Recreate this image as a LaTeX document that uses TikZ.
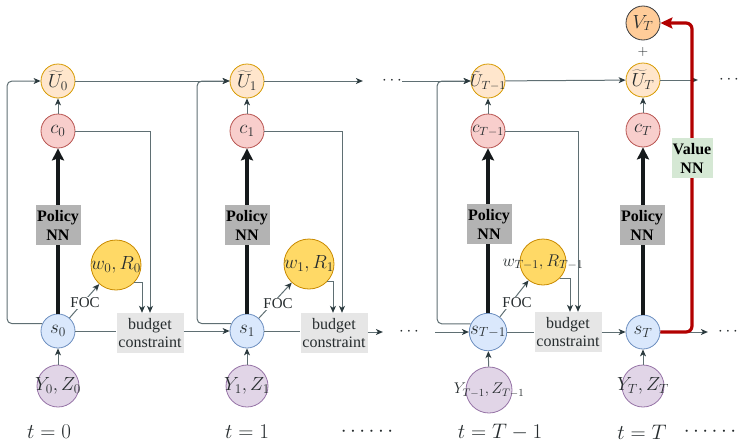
\RequirePackage{fix-cm}
\documentclass[tikz,border=0pt]{standalone}
\usepackage{fontspec}
\setmainfont{Liberation Serif}
\usetikzlibrary{arrows.meta,calc}
\definecolor{linec}{HTML}{5F6F73}
\definecolor{tipc}{HTML}{2B3A3E}
\definecolor{polc}{HTML}{15191B}
\definecolor{valc}{HTML}{B20000}
\definecolor{txtc}{HTML}{262C2E}
\definecolor{uD}{HTML}{D79B00}\definecolor{uF}{HTML}{FFE6CC}
\definecolor{cD}{HTML}{B85450}\definecolor{cF}{HTML}{F8CECC}
\definecolor{sD}{HTML}{6C8EBF}\definecolor{sF}{HTML}{DAE8FC}
\definecolor{wD}{HTML}{C98A00}\definecolor{wF}{HTML}{FFD966}
\definecolor{yD}{HTML}{9673A6}\definecolor{yF}{HTML}{E1D5E7}
\definecolor{vD}{HTML}{36393D}\definecolor{vF}{HTML}{FFCC99}
\definecolor{pnnF}{HTML}{B3B3B3}
\definecolor{bcF}{HTML}{E6E6E6}
\definecolor{vnnF}{HTML}{D5E8D4}

\begin{document}
\begin{tikzpicture}[x=1pt,y=-1pt,text=txtc,font=\fontsize{19}{22}\selectfont,
  con/.style={draw=linec,line width=1pt,-{Stealth[length=7pt,width=6pt,inset=2pt,color=tipc]}},
  conl/.style={draw=linec,line width=1pt},
  policy/.style={draw=polc,line width=3.5pt,-{Stealth[length=12pt,width=12pt,inset=2pt]}},
  valarrow/.style={draw=valc,line width=3.2pt,rounded corners=6pt,-{Stealth[length=12pt,width=11pt,inset=2pt]}},
  ucirc/.style={circle,draw=uD,fill=uF,line width=0.8pt,minimum size=34pt,inner sep=0pt},
  ccirc/.style={circle,draw=cD,fill=cF,line width=0.8pt,minimum size=34pt,inner sep=0pt},
  scirc/.style={circle,draw=sD,fill=sF,line width=0.8pt,minimum size=34pt,inner sep=0pt},
  wcirc/.style={circle,draw=wD,fill=wF,line width=0.8pt,minimum size=50pt,inner sep=0pt},
  ycirc/.style={circle,draw=yD,fill=yF,line width=0.8pt,minimum size=42pt,inner sep=0pt},
  vcirc/.style={circle,draw=vD,fill=vF,line width=0.8pt,minimum size=34pt,inner sep=0pt},
  small/.style={font=\fontsize{17}{20}\selectfont},
  pnn/.style={fill=pnnF,minimum width=45pt,minimum height=40pt,inner sep=0.5pt,align=center,
    text=black,font=\fontsize{16}{19}\selectfont\bfseries},
  vnn/.style={fill=vnnF,minimum width=41pt,minimum height=40pt,inner sep=0.5pt,align=center,
    text=black,font=\fontsize{16}{19}\selectfont\bfseries},
  budget/.style={fill=bcF,minimum width=67pt,minimum height=40pt,inner sep=1pt,align=center,
    font=\fontsize{16}{18}\selectfont},
  foc/.style={fill=white,inner sep=1pt,font=\fontsize{15}{17}\selectfont},
  dots/.style={inner sep=0pt,font=\fontsize{17}{20}\selectfont},
  tlab/.style={font=\fontsize{21}{24}\selectfont}]
  \useasboundingbox (0,0) rectangle (741,442);

  % t = 0
  \node[ucirc] (u0) at (58,81) {$\widetilde{U}_0$};
  \node[ccirc] (c0) at (58,131) {$c_0$};
  \node[scirc] (s0) at (58,331) {$s_0$};
  \node[wcirc,label={center:$w_0,R_0$}] (w0) at (116,265) {};
  \node[ycirc,label={center:$Y_0,Z_0$}] (y0) at (58,386) {};
  \node[budget] (b0) at (150,333) {budget\\constraint};
  \node[tlab] (t0) at (49,432) {$t=0$};
  \coordinate (l0) at (7,81);

  % t = 1
  \node[ucirc] (u1) at (247,81) {$\widetilde{U}_1$};
  \node[ccirc] (c1) at (247,131) {$c_1$};
  \node[scirc] (s1) at (247,331) {$s_1$};
  \node[wcirc,label={center:$w_1,R_1$}] (w1) at (309,264) {};
  \node[ycirc,label={center:$Y_1,Z_1$}] (y1) at (247,386) {};
  \node[budget] (b1) at (334,333) {budget\\constraint};
  \node[tlab] (t1) at (247,432) {$t=1$};
  \coordinate (l1) at (197,81);

  % t = T-1
  \node[ucirc,label={[small]center:$\tilde{U}_{T-1}$}] (u2) at (488,81) {};
  \node[ccirc,small] (c2) at (488,131) {$c_{T-1}$};
  \node[scirc,minimum size=36pt] (s2) at (488,332) {$s_{T-1}$};
  \node[wcirc,minimum size=46pt,label={[small]center:$w_{T-1},R_{T-1}$}] (w2) at (543,262) {};
  \node[ycirc,minimum size=46pt,label={[font=\fontsize{15.5}{18}\selectfont]center:$Y_{T-1},Z_{T-1}$}] (y2) at (489,390) {};
  \node[budget] (b2) at (568,332) {budget\\constraint};
  \node[tlab] (t2) at (500,432) {$t=T-1$};
  \coordinate (l2) at (437,81);

  % t = T
  \node[vcirc] (v3) at (643,23) {$V_T$};
  \node[font=\fontsize{14}{16}\selectfont] (plus) at (643,52) {$+$};
  \node[ucirc] (u3) at (643,80) {$\widetilde{U}_T$};
  \node[ccirc] (c3) at (643,130) {$c_T$};
  \node[scirc] (s3) at (643,332) {$s_T$};
  \node[ycirc,label={center:$Y_T,Z_T$}] (y3) at (643,386) {};
  \node[tlab] (t3) at (642,432) {$t=T$};
  \coordinate (rv) at (692,23);

  % dots
  \node[dots] (du) at (392,81) {$\cdots$};
  \node[dots] (dm) at (409,332) {$\cdots$};
  \node[dots] (dur) at (729,80) {$\cdots$};
  \node[dots] (dmr) at (728,332) {$\cdots$};
  \node[dots,tlab] (tdl) at (367,432) {$\cdots\cdots$};
  \node[dots,tlab] (tdr) at (710,432) {$\cdots\cdots$};

  % utility line
  \draw[con] (u0) -- (u1);
  \draw[con] (u1) -- ([xshift=-19pt]du.west);
  \draw[con] (du.east) -- (u2);
  \draw[con] (u2) -- (u3);
  \draw[con] (u3) -- ([xshift=-21pt]dur.west);

  % state line
  \draw[conl] (s0) -- (s0 -| b0.west);
  \draw[con] (b0.east |- s1) -- (s1);
  \draw[conl] (s1) -- (s1 -| b1.west);
  \draw[con] (b1.east |- dm) -- ([xshift=-16pt]dm.west);
  \draw[con] ([xshift=16pt]dm.east) -- (s2);
  \draw[conl] (s2) -- (s2 -| b2.west);
  \draw[con] (b2.east |- s3) -- (s3);
  \draw[con] (s3) -- ([xshift=-10pt]dmr.west);

  % loops back to utility
  \draw[con,rounded corners=5pt] (s0.155) -| (l0) -- (u0);
  \draw[con,rounded corners=5pt] (s1.155) -| (l1) -- (u1);
  \draw[con,rounded corners=5pt] (s2.155) -| (l2) -- (u2);

  % consumption, wages into budget
  \draw[con] (c0) -- (u0); \draw[con] (c1) -- (u1); \draw[con] (c2) -- (u2); \draw[con] (c3) -- (u3);
  \draw[con] (c0) -| ([xshift=0pt]b0.north);
  \draw[con] (w0.-45) -| ([xshift=-8pt]b0.north);
  \draw[con] (c1) -| ([xshift=8pt]b1.north);
  \draw[con] (w1.-45) -| ([xshift=-1pt]b1.north);
  \draw[con] (c2) -| ([xshift=10pt]b2.north);
  \draw[con] (w2.-45) -| ([xshift=2pt]b2.north);

  % income into state, FOC
  \draw[con] (y0) -- (s0); \draw[con] (y1) -- (s1); \draw[con] (y2) -- (s2); \draw[con] (y3) -- (s3);
  \draw[con] (s0) -- (w0); \draw[con] (s1) -- (w1); \draw[con] (s2) -- (w2);
  \node[foc] (f0) at (85,303) {FOC};
  \node[foc] (f1) at (278,304) {FOC};
  \node[foc] (f2) at (517,303) {FOC};

  % policy network
  \draw[policy] (s0) -- (c0); \draw[policy] (s1) -- (c1);
  \draw[policy] (s2) -- (c2); \draw[policy] (s3) -- (c3);
  \node[pnn] (p0) at (58,225) {Policy\\NN};
  \node[pnn] (p1) at (247,225) {Policy\\NN};
  \node[pnn] (p2) at (489,224) {Policy\\NN};
  \node[pnn] (p3) at (642,225) {Policy\\NN};

  % value network
  \draw[valarrow] (s3.east) -| (rv) -- (v3);
  \node[vnn] (vn) at (692,158) {Value\\NN};
\end{tikzpicture}
\end{document}
